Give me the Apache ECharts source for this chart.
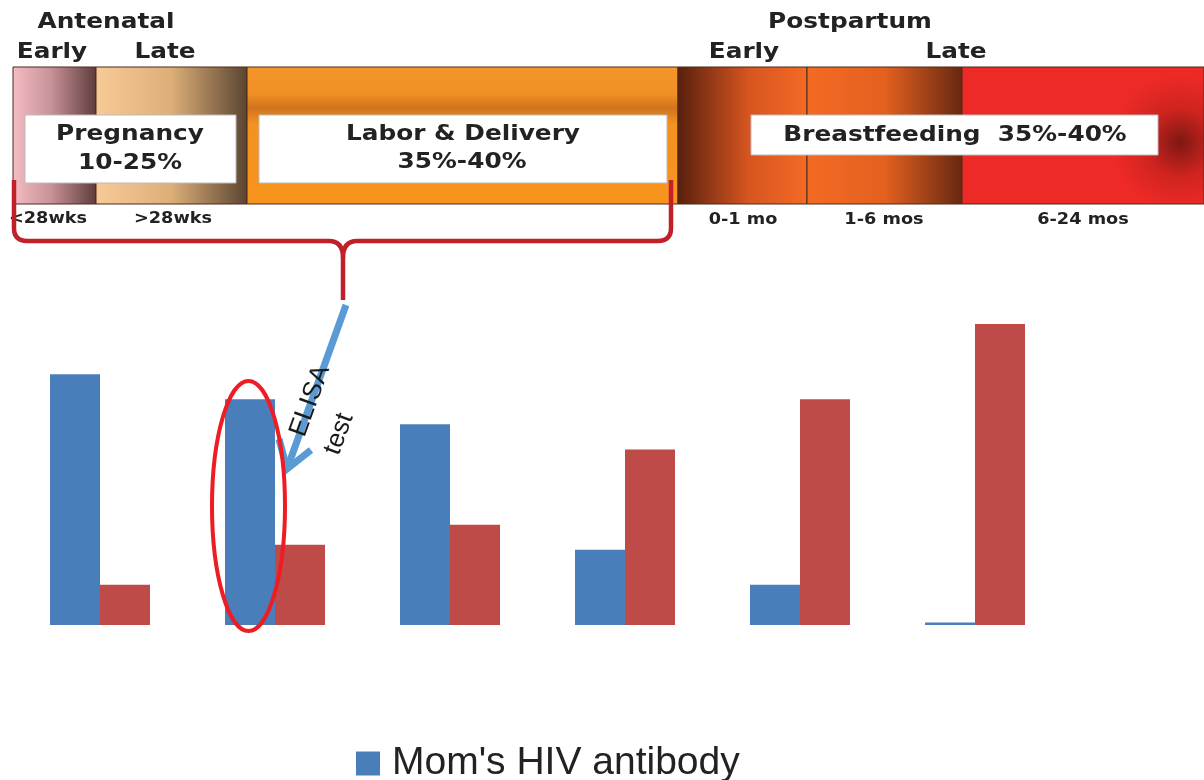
<!DOCTYPE html>
<html>
<head>
<meta charset="utf-8">
<title>HIV antibody timeline</title>
<script src="https://cdn.jsdelivr.net/npm/echarts@6/dist/echarts.min.js"></script>
<style>
  html, body { margin: 0; padding: 0; background: #fff; }
  #chart { width: 1204px; height: 780px; }
</style>
</head>
<body>
<div id="chart"></div>
<script>
// bar data (arbitrary units)
const categories = ['1', '2', '3', '4', '5', '6'];
const momAntibody = [100, 90, 80, 30, 16, 1];
const babyAntibody = [16, 32, 40, 70, 90, 120];
const seriesNames = ["Mom's HIV antibody", "Baby's HIV antibody"];

const BLUE = '#4A7EBB';
const RED = '#BE4B48';
const HEAD_FONT = 'DejaVu Sans';
const SX = 1.18; // the top banner text is stretched wide in the reference
const BRACE = '#c0202a';

let chart = echarts.init(document.getElementById('chart'));

function lin(stops, vertical) {
  return new echarts.graphic.LinearGradient(0, 0, vertical ? 0 : 1, vertical ? 1 : 0,
    stops.map(s => ({ offset: s[0], color: s[1] })));
}

function seg(x, w, fill) {
  return {
    type: 'rect', z: 1,
    shape: { x: x, y: 67, width: w, height: 137 },
    style: { fill: fill, stroke: '#4a2a18', lineWidth: 1 }
  };
}

function label(txt, x, y, size, extra) {
  return Object.assign({
    type: 'text', z: 20, x: x, y: y, scaleX: SX,
    style: {
      text: txt, align: 'center', verticalAlign: 'middle',
      font: 'bold ' + size + 'px "' + HEAD_FONT + '"', fill: '#222'
    }
  }, extra || {});
}

function box(x, y, w, h) {
  return {
    type: 'rect', z: 5,
    shape: { x: x, y: y, width: w, height: h },
    style: { fill: '#fff', stroke: '#bbb', lineWidth: 1 }
  };
}

// brace pieces
function bl(x1, y1, x2, y2) {
  return { type: 'line', z: 30, shape: { x1, y1, x2, y2 },
    style: { stroke: BRACE, lineWidth: 4.5 } };
}
function bq(x1, y1, x2, y2, cpx1, cpy1) {
  return { type: 'bezierCurve', z: 30, shape: { x1, y1, x2, y2, cpx1, cpy1 },
    style: { fill: null, stroke: BRACE, lineWidth: 4.5 } };
}

let graphics = [
  // timeline band
  seg(13, 83, lin([[0, '#f4bcc3'], [0.45, '#c9939a'], [1, '#5e3c3c']])),
  seg(96, 151, lin([[0, '#f8ca96'], [0.5, '#dcae78'], [1, '#5a4430']])),
  seg(247, 431, lin([[0, '#f5962a'], [0.2, '#ef8f25'], [0.3, '#d0741e'], [0.42, '#f39220'], [1, '#f7941d']], true)),
  seg(678, 129, lin([[0, '#58200f'], [0.55, '#d85520'], [1, '#f36a24']])),
  seg(807, 155, lin([[0, '#f36a24'], [0.5, '#e4601f'], [1, '#662812']])),
  seg(962, 242, new echarts.graphic.RadialGradient(0.9, 0.55, 0.5, [
    { offset: 0, color: '#7e1812' }, { offset: 0.5, color: '#d02420' }, { offset: 1, color: '#ee2a26' }
  ])),

  // white boxes
  box(25, 115, 211, 68),
  box(259, 115, 408, 68),
  box(751, 115, 407, 40),

  // headings
  label('Antenatal', 106, 23, 21),
  label('Early', 52, 53, 21),
  label('Late', 165, 53, 21),
  label('Postpartum', 850, 23, 21),
  label('Early', 744, 53, 21),
  label('Late', 956, 53, 21),

  // box texts
  label('Pregnancy', 130, 135, 21),
  label('10-25%', 130, 164, 21),
  label('Labor & Delivery', 463, 135, 21),
  label('35%-40%', 462, 163, 21),
  label('Breastfeeding  35%-40%', 955, 136, 21),

  // under the band
  label('<28wks', 48, 219, 15),
  label('>28wks', 173, 219, 15),
  label('0-1 mo', 743, 220, 15),
  label('1-6 mos', 884, 220, 15),
  label('6-24 mos', 1083, 220, 15),

  // red curly brace
  bl(14, 180, 14, 228),
  bq(14, 228, 27, 241, 14, 241),
  bl(27, 241, 329, 241),
  bq(329, 241, 343, 258, 343, 241),
  bl(343, 258, 343, 300),
  bq(357, 241, 343, 258, 343, 241),
  bl(357, 241, 658, 241),
  bq(658, 241, 671, 228, 671, 241),
  bl(671, 228, 671, 180),

  // blue arrow
  {
    type: 'line', z: 30,
    shape: { x1: 346, y1: 305, x2: 287, y2: 469 },
    style: { stroke: '#5b9bd5', lineWidth: 7 }
  },
  {
    type: 'polyline', z: 30,
    shape: { points: [[279, 439], [287, 469], [311, 450]] },
    style: { fill: null, stroke: '#5b9bd5', lineWidth: 7, lineJoin: 'miter' }
  },
  {
    type: 'text', z: 40, x: 310, y: 401, rotation: 70 * Math.PI / 180,
    style: { text: 'ELISA', align: 'center', verticalAlign: 'middle',
      font: '26px "Liberation Sans"', fill: '#1a1a1a' }
  },
  {
    type: 'text', z: 40, x: 339, y: 434, rotation: 70 * Math.PI / 180,
    style: { text: 'test', align: 'center', verticalAlign: 'middle',
      font: '26px "Liberation Sans"', fill: '#1a1a1a' }
  },

  // red ellipse round the second blue bar
  {
    type: 'ellipse', z: 30,
    shape: { cx: 248.5, cy: 506, rx: 36.5, ry: 125 },
    style: { fill: null, stroke: '#ee1c25', lineWidth: 4 }
  }
];

let option = {
  animation: false,
  backgroundColor: '#fff',
  grid: { left: 12.5, right: 141.5, top: 324, bottom: 155, containLabel: false },
  xAxis: {
    type: 'category',
    data: categories,
    show: false
  },
  yAxis: {
    type: 'value',
    min: 0,
    max: 120,
    show: false
  },
  legend: {
    data: [seriesNames[0]],
    left: 356,
    top: 744,
    padding: 0,
    icon: 'rect',
    itemWidth: 24,
    itemHeight: 24,
    textStyle: { fontFamily: 'Liberation Sans', fontSize: 39, color: '#222', padding: [0, 0, 0, 7] }
  },
  series: [
    {
      name: seriesNames[0],
      type: 'bar',
      data: momAntibody,
      barWidth: 50,
      barGap: '0%',
      itemStyle: { color: BLUE }
    },
    {
      name: seriesNames[1],
      type: 'bar',
      data: babyAntibody,
      barWidth: 50,
      barGap: '0%',
      itemStyle: { color: RED }
    }
  ],
  graphic: graphics
};

chart.setOption(option);
</script>
</body>
</html>
